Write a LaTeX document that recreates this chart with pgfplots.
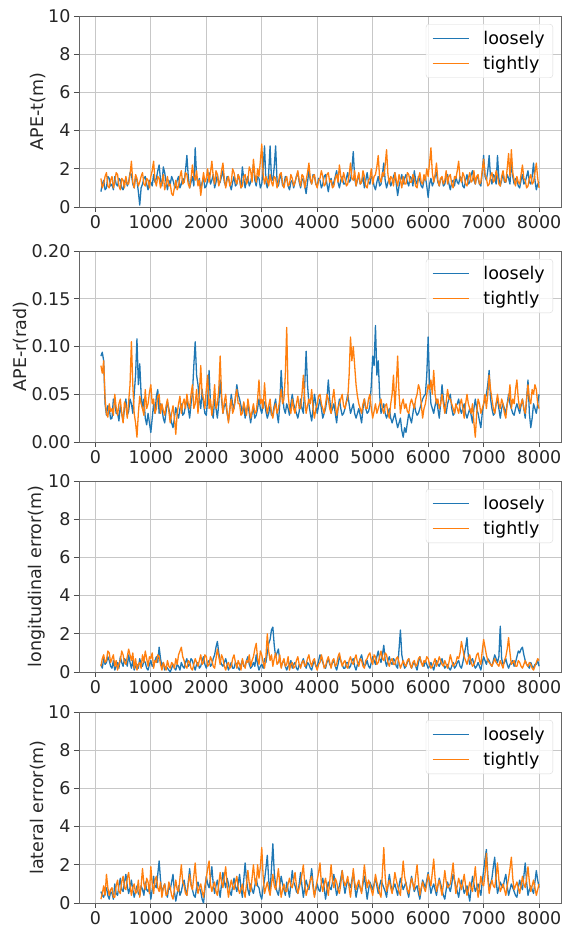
\documentclass[border=0pt]{standalone}
\usepackage{fontspec}
\setmainfont{DejaVu Sans}
\usepackage{pgfplots}
\usepackage{pgfplotstable}
\pgfplotsset{compat=1.18}
\definecolor{tabblue}{HTML}{1F77B4}
\definecolor{taborange}{HTML}{FF7F0E}
\newcommand\fs{\fontsize{17.5}{21}\selectfont}

\pgfplotstableread{
x a b
100 0.8 1.5
125 1.2 1.0
150 1.4 1.2
175 0.9 1.6
200 1.0 1.8
225 1.6 1.1
250 1.5 1.0
275 1.1 1.4
300 1.2 1.6
325 0.9 1.0
350 1.6 1.3
375 1.2 1.8
400 1.1 1.7
425 1.5 1.1
450 1.4 0.9
475 1.0 1.5
500 0.9 1.4
525 1.3 1.0
550 1.5 1.6
575 1.1 1.2
600 1.3 1.2
625 1.8 1.7
650 1.7 2.4
675 1.2 1.3
700 1.0 1.0
725 1.6 1.7
750 1.4 1.5
775 0.8 1.1
800 0.1 1.3
825 1.0 1.6
850 1.2 1.8
875 1.5 1.2
900 1.6 1.1
925 1.2 1.5
950 0.9 1.4
975 1.4 1.0
1000 1.3 1.6
1025 1.1 1.9
1050 1.7 2.4
1075 1.3 1.4
1100 1.5 1.1
1125 1.9 1.6
1150 2.2 1.5
1175 1.4 1.0
1200 1.1 1.3
1225 2.1 1.7
1250 1.8 0.9
1275 1.3 1.2
1300 0.9 1.6
1325 1.4 1.1
1350 1.2 1.2
1375 1.6 0.7
1400 1.4 0.6
1425 1.1 1.0
1450 1.0 1.4
1475 1.4 0.9
1500 1.6 1.1
1525 1.0 1.6
1550 1.2 1.9
1575 1.5 1.2
1600 1.3 1.3
1625 1.9 1.8
1650 2.7 1.7
1675 1.6 1.2
1700 1.0 1.0
1725 1.3 1.5
1750 1.6 2.2
1775 1.1 1.6
1800 3.1 1.4
1825 1.6 1.9
1850 1.2 1.1
1875 1.5 1.4
1900 0.9 0.6
1925 1.3 1.2
1950 1.5 1.8
1975 1.0 1.3
2000 1.1 1.5
2025 1.4 2.0
2050 1.8 1.3
2075 1.2 1.8
2100 1.4 2.4
2125 1.7 1.6
2150 1.0 1.2
2175 1.3 1.9
2200 1.7 1.7
2225 1.2 1.1
2250 1.3 1.4
2275 1.6 1.9
2300 1.9 2.3
2325 1.3 1.5
2350 1.1 1.0
2375 1.6 1.4
2400 1.5 1.6
2425 1.2 1.1
2450 0.9 1.3
2475 1.3 2.0
2500 1.6 1.8
2525 1.1 1.4
2550 1.2 1.2
2575 1.7 1.7
2600 1.4 1.5
2625 1.0 1.0
2650 2.1 1.1
2675 1.5 1.6
2700 1.0 1.7
2725 1.4 1.2
2750 1.6 1.4
2775 1.1 2.1
2800 1.3 1.9
2825 1.7 1.3
2850 2.2 2.5
2875 1.4 1.7
2900 1.1 1.3
2925 1.6 2.0
2950 1.5 1.6
2975 1.0 2.4
3000 1.2 3.3
3025 2.0 1.7
3050 3.2 1.2
3075 1.3 1.6
3100 1.0 1.4
3125 1.8 1.1
3150 3.2 1.7
3175 1.5 1.3
3200 1.4 1.1
3225 2.1 1.6
3250 3.2 1.5
3275 1.4 1.0
3300 1.1 1.3
3325 1.5 1.7
3350 1.7 1.8
3375 1.1 1.2
3400 1.2 1.0
3425 1.6 1.4
3450 1.5 1.6
3475 1.1 1.1
3500 0.9 1.2
3525 1.3 1.7
3550 1.4 1.5
3575 1.0 1.1
3600 1.3 1.3
3625 1.6 1.6
3650 1.8 1.9
3675 1.3 1.4
3700 1.0 1.1
3725 1.4 1.7
3750 1.5 1.6
3775 1.1 1.0
3800 0.7 1.4
3825 1.3 1.8
3850 1.9 2.3
3875 1.4 1.5
3900 1.2 1.2
3925 1.7 1.6
3950 1.6 1.7
3975 1.2 1.2
4000 1.1 1.0
4025 1.5 1.4
4050 1.4 1.5
4075 1.0 1.9
4100 1.2 1.6
4125 1.6 1.1
4150 1.7 1.2
4175 1.2 1.7
4200 0.8 1.8
4225 1.3 1.3
4250 1.5 1.4
4275 1.1 1.0
4300 1.3 1.1
4325 1.6 1.5
4350 1.9 1.7
4375 1.3 1.3
4400 1.0 2.2
4425 1.4 1.6
4450 1.6 1.3
4475 1.2 1.8
4500 1.2 1.5
4525 1.5 1.1
4550 1.8 1.2
4575 1.3 1.7
4600 1.4 2.3
4625 2.0 1.5
4650 2.9 1.4
4675 1.5 1.9
4700 1.1 1.1
4725 1.4 1.5
4750 1.7 1.8
4775 1.2 1.2
4800 1.3 1.3
4825 1.6 1.9
4850 1.0 1.6
4875 1.4 1.1
4900 1.8 1.0
4925 1.3 1.4
4950 1.2 1.5
4975 1.6 2.0
5000 1.5 1.2
5025 1.1 1.6
5050 0.9 1.7
5075 1.3 2.1
5100 1.6 2.7
5125 1.1 1.5
5150 1.2 1.3
5175 1.7 1.8
5200 2.3 1.6
5225 1.4 2.2
5250 1.0 3.0
5275 1.3 1.7
5300 1.5 1.2
5325 1.1 1.6
5350 1.3 1.5
5375 1.6 1.1
5400 1.8 1.8
5425 1.2 1.4
5450 0.6 1.1
5475 1.1 1.7
5500 1.4 1.4
5525 1.7 1.0
5550 1.2 1.6
5575 1.5 1.2
5600 1.7 1.2
5625 1.3 1.8
5650 1.1 1.7
5675 1.6 1.3
5700 1.5 1.3
5725 1.1 1.7
5750 1.9 1.5
5775 1.4 1.1
5800 1.2 1.0
5825 1.6 1.5
5850 1.4 1.8
5875 1.1 1.3
5900 1.0 1.2
5925 1.4 1.7
5950 1.6 1.4
5975 1.1 2.0
6000 0.5 1.6
6025 1.2 2.3
6050 1.5 3.1
6075 1.1 1.8
6100 1.3 1.3
6125 1.6 1.7
6150 1.8 2.3
6175 1.3 1.4
6200 1.1 1.1
6225 1.5 1.5
6250 1.5 1.6
6275 1.1 1.2
6300 1.2 1.4
6325 1.6 1.9
6350 1.7 1.2
6375 1.2 1.6
6400 0.9 1.7
6425 1.3 1.2
6450 1.4 1.0
6475 1.1 1.6
6500 1.6 1.5
6525 1.3 1.9
6550 1.2 2.4
6575 1.6 1.5
6600 1.5 1.3
6625 1.1 1.8
6650 1.0 1.6
6675 1.4 1.2
6700 1.7 1.1
6725 1.2 1.5
6750 1.3 1.8
6775 1.7 1.3
6800 1.9 1.4
6825 1.4 1.9
6850 1.2 1.2
6875 1.6 1.6
6900 1.5 1.7
6925 1.2 1.2
6950 1.1 1.3
6975 1.8 1.9
7000 2.7 2.5
7025 1.6 1.7
7050 1.4 1.5
7075 1.9 1.1
7100 2.7 1.2
7125 1.5 1.6
7150 1.2 1.8
7175 1.7 1.3
7200 1.6 1.4
7225 1.2 1.9
7250 2.7 1.6
7275 1.5 1.2
7300 1.1 1.1
7325 1.4 1.6
7350 1.8 1.9
7375 1.3 1.4
7400 1.3 1.3
7425 1.7 2.0
7450 1.5 2.8
7475 1.2 1.6
7500 2.5 3.0
7525 1.6 1.8
7550 1.2 1.4
7575 1.5 1.1
7600 1.4 1.6
7625 1.1 1.3
7650 1.0 1.2
7675 1.4 1.7
7700 1.7 2.2
7725 1.2 1.5
7750 1.3 1.4
7775 1.6 1.0
7800 1.9 1.1
7825 1.3 1.5
7850 1.2 1.7
7875 1.6 1.2
7900 2.3 1.3
7925 1.4 1.8
7950 0.9 2.3
7975 1.2 1.5
8000 1.3 1.0
}\tabT

\pgfplotstableread{
x a b
100 0.090 0.080
125 0.094 0.072
150 0.085 0.085
175 0.040 0.045
200 0.028 0.030
225 0.038 0.026
250 0.035 0.040
275 0.024 0.032
300 0.025 0.035
325 0.045 0.028
350 0.042 0.050
375 0.030 0.036
400 0.030 0.028
425 0.022 0.040
450 0.038 0.045
475 0.030 0.030
500 0.022 0.020
525 0.035 0.042
550 0.045 0.038
575 0.028 0.025
600 0.032 0.042
625 0.045 0.060
650 0.040 0.105
675 0.030 0.060
700 0.050 0.030
725 0.070 0.020
750 0.108 0.005
775 0.060 0.030
800 0.082 0.048
825 0.050 0.040
850 0.035 0.035
875 0.045 0.028
900 0.025 0.055
925 0.018 0.035
950 0.030 0.040
975 0.020 0.052
1000 0.010 0.060
1025 0.025 0.040
1050 0.040 0.045
1075 0.030 0.030
1100 0.048 0.035
1125 0.055 0.048
1150 0.030 0.050
1175 0.040 0.030
1200 0.035 0.040
1225 0.025 0.033
1250 0.020 0.028
1275 0.032 0.038
1300 0.042 0.045
1325 0.035 0.032
1350 0.028 0.020
1375 0.020 0.030
1400 0.015 0.038
1425 0.025 0.025
1450 0.036 0.008
1475 0.030 0.030
1500 0.025 0.040
1525 0.035 0.048
1550 0.040 0.030
1575 0.028 0.040
1600 0.030 0.045
1625 0.038 0.035
1650 0.045 0.050
1675 0.035 0.040
1700 0.025 0.035
1725 0.040 0.050
1750 0.050 0.060
1775 0.080 0.035
1800 0.105 0.040
1825 0.070 0.055
1850 0.060 0.030
1875 0.045 0.050
1900 0.035 0.080
1925 0.055 0.050
1950 0.040 0.045
1975 0.030 0.035
2000 0.028 0.055
2025 0.045 0.070
2050 0.075 0.035
2075 0.040 0.045
2100 0.032 0.028
2125 0.025 0.040
2150 0.045 0.060
2175 0.035 0.035
2200 0.025 0.040
2225 0.040 0.055
2250 0.065 0.090
2275 0.045 0.050
2300 0.030 0.030
2325 0.038 0.042
2350 0.040 0.050
2375 0.030 0.032
2400 0.022 0.020
2425 0.035 0.035
2450 0.050 0.045
2475 0.040 0.030
2500 0.035 0.035
2525 0.045 0.048
2550 0.060 0.055
2575 0.050 0.040
2600 0.045 0.040
2625 0.038 0.028
2650 0.030 0.030
2675 0.040 0.042
2700 0.025 0.035
2725 0.032 0.028
2750 0.040 0.045
2775 0.030 0.035
2800 0.020 0.025
2825 0.030 0.032
2850 0.035 0.040
2875 0.025 0.030
2900 0.028 0.032
2925 0.035 0.045
2950 0.045 0.065
2975 0.035 0.040
3000 0.030 0.045
3025 0.040 0.035
3050 0.042 0.062
3075 0.032 0.040
3100 0.025 0.030
3125 0.030 0.038
3150 0.038 0.045
3175 0.028 0.030
3200 0.030 0.025
3225 0.038 0.035
3250 0.045 0.040
3275 0.030 0.030
3300 0.020 0.035
3325 0.040 0.045
3350 0.075 0.055
3375 0.050 0.040
3400 0.035 0.045
3425 0.030 0.070
3450 0.040 0.120
3475 0.035 0.050
3500 0.028 0.035
3525 0.040 0.030
3550 0.050 0.045
3575 0.040 0.035
3600 0.035 0.030
3625 0.030 0.040
3650 0.025 0.048
3675 0.032 0.035
3700 0.045 0.035
3725 0.035 0.050
3750 0.030 0.070
3775 0.060 0.045
3800 0.095 0.030
3825 0.060 0.038
3850 0.040 0.045
3875 0.030 0.040
3900 0.022 0.055
3925 0.035 0.035
3950 0.050 0.025
3975 0.040 0.035
4000 0.030 0.040
4025 0.038 0.048
4050 0.045 0.050
4075 0.035 0.040
4100 0.025 0.035
4125 0.030 0.030
4150 0.035 0.040
4175 0.045 0.050
4200 0.065 0.045
4225 0.045 0.035
4250 0.030 0.030
4275 0.035 0.045
4300 0.040 0.055
4325 0.030 0.040
4350 0.020 0.028
4375 0.035 0.035
4400 0.045 0.040
4425 0.035 0.045
4450 0.028 0.050
4475 0.030 0.038
4500 0.035 0.035
4525 0.042 0.042
4550 0.050 0.045
4575 0.040 0.070
4600 0.030 0.110
4625 0.035 0.085
4650 0.040 0.100
4675 0.030 0.080
4700 0.025 0.060
4725 0.030 0.048
4750 0.035 0.040
4775 0.028 0.035
4800 0.020 0.030
4825 0.035 0.040
4850 0.045 0.045
4875 0.035 0.035
4900 0.030 0.035
4925 0.032 0.045
4950 0.038 0.050
4975 0.060 0.035
5000 0.090 0.025
5025 0.080 0.032
5050 0.122 0.040
5075 0.070 0.030
5100 0.085 0.035
5125 0.050 0.040
5150 0.030 0.045
5175 0.035 0.035
5200 0.040 0.030
5225 0.030 0.038
5250 0.025 0.040
5275 0.030 0.030
5300 0.035 0.025
5325 0.025 0.040
5350 0.020 0.050
5375 0.025 0.070
5400 0.030 0.035
5425 0.022 0.060
5450 0.015 0.090
5475 0.020 0.050
5500 0.025 0.030
5525 0.012 0.040
5550 0.005 0.045
5575 0.015 0.035
5600 0.010 0.040
5625 0.020 0.032
5650 0.030 0.030
5675 0.025 0.040
5700 0.020 0.045
5725 0.030 0.040
5750 0.040 0.035
5775 0.032 0.045
5800 0.028 0.050
5825 0.030 0.060
5850 0.035 0.055
5875 0.040 0.040
5900 0.045 0.025
5925 0.048 0.035
5950 0.050 0.040
5975 0.070 0.050
6000 0.110 0.060
6025 0.060 0.055
6050 0.040 0.065
6075 0.035 0.050
6100 0.030 0.075
6125 0.038 0.050
6150 0.045 0.040
6175 0.035 0.045
6200 0.025 0.035
6225 0.040 0.040
6250 0.060 0.050
6275 0.045 0.040
6300 0.035 0.030
6325 0.030 0.042
6350 0.040 0.055
6375 0.045 0.045
6400 0.050 0.045
6425 0.035 0.040
6450 0.028 0.035
6475 0.030 0.030
6500 0.038 0.040
6525 0.040 0.035
6550 0.045 0.030
6575 0.035 0.040
6600 0.030 0.045
6625 0.035 0.035
6650 0.040 0.025
6675 0.030 0.040
6700 0.025 0.050
6725 0.030 0.040
6750 0.035 0.035
6775 0.028 0.030
6800 0.020 0.040
6825 0.035 0.020
6850 0.045 0.005
6875 0.035 0.030
6900 0.030 0.045
6925 0.022 0.040
6950 0.015 0.030
6975 0.030 0.035
7000 0.040 0.040
7025 0.045 0.050
7050 0.050 0.035
7075 0.060 0.050
7100 0.075 0.070
7125 0.045 0.055
7150 0.035 0.045
7175 0.028 0.035
7200 0.030 0.030
7225 0.040 0.040
7250 0.045 0.050
7275 0.035 0.040
7300 0.025 0.035
7325 0.035 0.045
7350 0.040 0.040
7375 0.035 0.030
7400 0.030 0.025
7425 0.040 0.040
7450 0.050 0.045
7475 0.040 0.060
7500 0.035 0.035
7525 0.030 0.045
7550 0.028 0.040
7575 0.035 0.055
7600 0.040 0.065
7625 0.035 0.045
7650 0.030 0.035
7675 0.038 0.040
7700 0.045 0.045
7725 0.035 0.035
7750 0.025 0.030
7775 0.045 0.045
7800 0.065 0.060
7825 0.030 0.045
7850 0.015 0.040
7875 0.025 0.055
7900 0.040 0.050
7925 0.035 0.060
7950 0.030 0.055
7975 0.040 0.040
8000 0.050 0.035
}\tabR

\pgfplotstableread{
x a b
100 0.4 0.3
125 0.2 0.7
150 0.7 0.9
175 0.4 0.5
200 0.5 0.6
225 0.8 1.1
250 0.6 1.0
275 0.3 0.5
300 0.2 0.7
325 0.6 0.9
350 0.1 0.3
375 0.3 0.6
400 0.5 0.1
425 0.2 0.4
450 0.8 0.6
475 0.5 1.1
500 0.3 0.9
525 0.7 0.5
550 0.6 0.4
575 0.3 0.8
600 0.9 1.2
625 0.5 0.9
650 0.2 0.6
675 0.6 1.0
700 0.1 0.2
725 0.3 0.7
750 0.4 0.1
775 0.2 0.4
800 0.7 0.5
825 0.4 0.2
850 0.3 0.9
875 0.6 0.5
900 0.5 1.1
925 0.2 0.7
950 0.1 0.3
975 0.4 0.8
1000 0.6 0.7
1025 0.3 1.0
1050 0.4 0.2
1075 0.6 0.6
1100 0.8 0.5
1125 0.5 0.9
1150 1.3 0.8
1175 0.7 0.4
1200 0.3 0.1
1225 0.5 0.5
1250 0.1 0.3
1275 0.3 0.1
1300 0.2 0.6
1325 0.1 0.3
1350 0.0 0.2
1375 0.2 0.5
1400 0.4 0.4
1425 0.2 0.2
1450 0.1 0.7
1475 0.4 0.4
1500 0.3 0.9
1525 0.1 1.1
1550 0.5 1.3
1575 0.3 0.8
1600 0.2 0.6
1625 0.5 0.3
1650 0.7 0.2
1675 0.3 0.6
1700 0.4 0.5
1725 0.7 0.2
1750 0.6 0.1
1775 0.3 0.4
1800 0.1 0.7
1825 0.4 0.5
1850 0.5 0.3
1875 0.2 0.6
1900 0.3 0.9
1925 0.6 0.4
1950 0.8 0.5
1975 0.4 0.9
2000 0.2 0.8
2025 0.5 0.3
2050 0.6 0.4
2075 0.3 0.8
2100 0.4 0.6
2125 0.7 0.3
2150 0.9 0.2
2175 1.3 0.7
2200 1.6 1.2
2225 1.0 0.8
2250 0.6 0.4
2275 0.4 0.9
2300 0.3 0.7
2325 0.5 0.3
2350 0.7 0.1
2375 0.4 0.4
2400 0.1 0.5
2425 0.3 0.2
2450 0.5 0.3
2475 0.2 0.7
2500 0.2 0.9
2525 0.5 0.5
2550 0.4 0.2
2575 0.2 0.6
2600 0.1 0.4
2625 0.4 0.1
2650 0.6 0.7
2675 0.3 0.4
2700 0.3 0.2
2725 0.6 0.6
2750 0.8 0.5
2775 0.4 0.9
2800 0.2 0.3
2825 0.3 0.6
2850 0.5 0.8
2875 0.3 1.2
2900 0.9 1.5
2925 0.4 0.7
2950 0.1 0.4
2975 0.3 1.1
3000 0.4 0.9
3025 0.2 0.5
3050 0.7 0.2
3075 0.5 0.8
3100 1.0 2.0
3125 1.5 1.1
3150 1.7 0.6
3175 2.2 0.9
3200 2.35 0.3
3225 1.4 0.7
3250 0.8 1.0
3275 1.0 0.4
3300 1.2 0.5
3325 0.6 0.9
3350 0.3 0.2
3375 0.5 0.5
3400 0.6 0.7
3425 0.3 0.3
3450 0.1 0.4
3475 0.3 0.8
3500 0.4 0.1
3525 0.6 0.4
3550 0.2 0.5
3575 0.4 0.2
3600 0.5 0.3
3625 0.2 0.6
3650 0.1 0.8
3675 0.4 0.4
3700 0.3 0.2
3725 0.5 0.5
3750 0.7 0.6
3775 0.4 0.3
3800 0.2 0.4
3825 0.5 0.7
3850 0.4 0.9
3875 0.2 0.5
3900 0.1 0.3
3925 0.4 0.6
3950 0.6 0.7
3975 0.3 0.3
4000 0.3 0.1
4025 0.6 0.4
4050 0.9 0.5
4075 0.7 0.9
4100 0.5 0.6
4125 0.3 0.2
4150 0.2 0.3
4175 0.5 0.6
4200 0.7 0.8
4225 0.4 0.5
4250 0.3 0.2
4275 0.5 0.6
4300 0.6 0.7
4325 0.3 0.3
4350 0.1 0.4
4375 0.4 0.8
4400 0.8 1.0
4425 0.6 0.6
4450 0.4 0.3
4475 0.2 0.5
4500 0.2 0.6
4525 0.5 0.3
4550 0.5 0.2
4575 0.2 0.6
4600 0.3 0.8
4625 0.6 0.5
4650 0.7 0.4
4675 0.3 0.7
4700 0.1 0.9
4725 0.4 0.5
4750 0.5 0.3
4775 0.7 0.7
4800 0.9 0.6
4825 0.5 0.3
4850 0.3 0.2
4875 0.4 0.6
4900 0.6 0.7
4925 0.3 0.9
4950 0.2 1.0
4975 0.5 0.6
5000 0.8 0.4
5025 0.6 0.9
5050 0.4 0.8
5075 0.8 0.4
5100 1.1 0.5
5125 0.7 0.8
5150 0.5 1.1
5175 0.9 0.7
5200 1.4 0.6
5225 0.6 1.0
5250 0.3 0.9
5275 0.6 0.5
5300 0.8 0.3
5325 0.5 0.6
5350 0.4 0.7
5375 0.7 0.4
5400 0.6 0.4
5425 0.3 0.7
5450 0.2 0.8
5475 1.2 0.5
5500 2.2 0.2
5525 0.9 0.4
5550 0.5 0.6
5575 0.2 0.4
5600 0.3 0.3
5625 0.5 0.6
5650 0.7 0.7
5675 0.4 0.4
5700 0.2 0.2
5725 0.4 0.5
5750 0.5 0.6
5775 0.3 0.3
5800 0.1 0.4
5825 0.5 0.7
5850 0.8 0.8
5875 0.5 0.5
5900 0.4 0.3
5925 0.3 0.6
5950 0.6 0.5
5975 0.4 0.8
6000 0.2 0.7
6025 0.3 0.4
6050 0.5 0.2
6075 0.3 0.3
6100 0.1 0.5
6125 0.4 0.7
6150 0.6 0.3
6175 0.4 0.5
6200 0.3 0.8
6225 0.5 0.6
6250 0.7 0.4
6275 0.4 0.3
6300 0.2 0.6
6325 0.3 0.4
6350 0.4 0.2
6375 0.2 0.5
6400 0.1 0.9
6425 0.3 0.6
6450 0.5 0.3
6475 0.2 0.4
6500 0.3 0.5
6525 0.5 0.8
6550 0.6 0.7
6575 0.3 1.0
6600 0.2 1.6
6625 0.5 1.2
6650 0.9 0.8
6675 1.3 0.6
6700 1.8 0.4
6725 0.8 0.7
6750 0.4 0.9
6775 0.6 0.5
6800 0.7 0.3
6825 0.4 0.4
6850 0.2 0.6
6875 0.3 0.9
6900 0.5 1.0
6925 0.3 0.6
6950 0.1 0.4
6975 0.5 1.1
7000 0.8 1.7
7025 0.6 1.3
7050 0.4 0.9
7075 0.7 0.6
7100 0.6 0.5
7125 0.4 0.4
7150 0.3 0.3
7175 0.6 0.5
7200 0.9 0.7
7225 0.7 0.5
7250 0.5 0.4
7275 0.8 0.3
7300 2.4 0.6
7325 0.7 0.4
7350 0.4 0.2
7375 0.5 0.6
7400 0.7 0.8
7425 0.4 1.2
7450 0.2 1.8
7475 0.4 1.0
7500 0.5 0.4
7525 0.6 0.5
7550 0.3 0.6
7575 0.5 0.3
7600 0.8 0.3
7625 1.1 0.6
7650 1.0 0.5
7675 1.2 0.3
7700 1.3 0.2
7725 0.9 0.4
7750 0.6 0.6
7775 0.4 0.4
7800 0.3 0.3
7825 0.2 0.5
7850 0.5 0.4
7875 0.3 0.2
7900 0.2 0.1
7925 0.4 0.3
7950 0.4 0.5
7975 0.6 0.7
8000 0.3 0.6
}\tabLo

\pgfplotstableread{
x a b
100 0.6 0.2
125 0.4 0.5
150 0.3 0.9
175 0.6 0.4
200 0.8 1.5
225 0.4 0.8
250 0.2 0.4
275 0.6 0.7
300 0.5 0.8
325 0.2 0.3
350 1.0 0.3
375 0.5 0.9
400 0.4 1.2
425 0.9 0.6
450 1.3 0.5
475 0.7 1.1
500 0.6 1.4
525 1.1 0.8
550 1.5 0.7
575 0.9 1.3
600 0.5 1.6
625 0.8 0.9
650 1.2 0.4
675 0.7 0.8
700 0.3 1.0
725 0.6 0.5
750 0.9 0.6
775 0.5 1.2
800 0.4 0.3
825 0.9 0.9
850 0.7 1.8
875 0.4 1.0
900 1.1 0.7
925 0.7 1.3
950 0.6 1.1
975 0.9 0.5
1000 0.2 1.9
1025 0.7 1.0
1050 1.4 0.5
1075 0.9 1.2
1100 0.8 1.4
1125 1.5 0.8
1150 2.2 0.6
1175 1.2 1.1
1200 0.5 0.3
1225 0.8 0.8
1250 1.0 1.0
1275 0.5 0.4
1300 0.3 0.5
1325 0.9 1.1
1350 0.7 0.8
1375 1.1 0.4
1400 1.5 0.2
1425 0.6 0.7
1450 0.1 1.2
1475 0.5 0.7
1500 0.9 0.6
1525 0.4 1.3
1550 0.6 2.0
1575 1.0 1.1
1600 1.2 0.9
1625 0.7 0.5
1650 0.4 0.4
1675 1.1 1.0
1700 1.8 1.5
1725 1.0 0.9
1750 0.7 0.7
1775 0.4 1.4
1800 0.3 2.1
1825 0.8 1.0
1850 1.1 0.5
1875 0.8 0.8
1900 0.6 1.0
1925 0.2 0.6
1950 0.0 0.3
1975 0.7 0.9
2000 1.4 1.3
2025 1.0 1.8
2050 0.8 2.2
2075 1.3 1.0
2100 1.9 0.6
2125 1.0 0.9
2150 0.5 1.1
2175 0.9 0.6
2200 1.2 0.4
2225 0.7 1.0
2250 0.3 1.6
2275 1.0 1.1
2300 1.6 0.8
2325 1.1 1.4
2350 0.8 1.9
2375 1.3 0.9
2400 1.0 0.3
2425 0.6 0.8
2450 0.4 1.2
2475 0.9 0.9
2500 1.3 0.7
2525 0.9 1.1
2550 0.6 1.4
2575 1.0 0.8
2600 1.5 0.5
2625 0.8 0.7
2650 0.3 1.0
2675 1.2 0.6
2700 2.1 0.3
2725 1.2 1.0
2750 0.7 1.7
2775 0.4 1.0
2800 1.0 0.6
2825 0.7 1.3
2850 0.5 2.0
2875 0.9 1.2
2900 1.3 0.9
2925 0.9 2.0
2950 0.8 1.3
2975 0.4 1.9
3000 0.2 2.9
3025 0.8 1.4
3050 1.2 0.5
3075 1.8 0.8
3100 2.5 1.1
3125 1.2 0.7
3150 0.6 0.4
3175 1.8 1.0
3200 3.1 1.5
3225 1.6 0.9
3250 0.9 0.7
3275 0.6 1.2
3300 0.4 1.8
3325 0.9 1.0
3350 1.4 0.3
3375 1.0 0.7
3400 0.7 1.0
3425 0.4 0.6
3450 1.1 0.6
3475 0.7 1.0
3500 0.3 1.3
3525 1.0 0.9
3550 1.7 0.8
3575 1.1 1.2
3600 0.9 1.6
3625 0.6 0.9
3650 0.5 0.5
3675 1.0 0.8
3700 1.6 1.1
3725 0.9 1.5
3750 0.3 2.0
3775 0.8 1.0
3800 1.2 0.4
3825 0.9 0.7
3850 0.7 0.9
3875 1.2 1.2
3900 1.8 1.4
3925 1.0 0.8
3950 0.4 0.3
3975 0.7 0.8
4000 1.0 1.2
4025 0.7 1.6
4050 0.6 2.1
4075 1.0 1.0
4100 1.3 0.6
4125 0.8 1.0
4150 0.2 1.3
4175 0.7 0.8
4200 1.1 0.4
4225 0.8 1.1
4250 0.7 2.0
4275 1.1 1.2
4300 1.5 0.8
4325 0.9 1.3
4350 0.4 1.1
4375 0.7 0.7
4400 0.9 0.5
4425 1.3 1.0
4450 1.7 1.7
4475 1.0 1.2
4500 0.5 0.9
4525 0.9 1.1
4550 1.2 1.4
4575 1.0 0.8
4600 0.8 0.3
4625 1.2 1.0
4650 1.6 1.8
4675 0.9 1.1
4700 0.3 0.7
4725 0.7 1.0
4750 1.0 1.2
4775 0.8 0.8
4800 0.6 0.5
4825 1.0 1.2
4850 1.4 2.0
4875 0.8 1.3
4900 0.2 0.8
4925 0.7 1.2
4950 1.1 1.0
4975 0.9 0.7
5000 0.7 0.4
5025 1.0 0.9
5050 1.3 1.5
5075 0.9 1.1
5100 0.5 0.8
5125 0.9 0.5
5150 1.2 0.3
5175 1.0 1.6
5200 0.8 2.9
5225 0.6 1.4
5250 0.3 0.6
5275 0.9 0.9
5300 1.5 1.2
5325 1.0 0.8
5350 0.6 0.5
5375 0.8 1.0
5400 1.0 1.6
5425 0.7 1.2
5450 0.4 0.9
5475 0.9 0.6
5500 1.3 0.4
5525 1.0 1.3
5550 0.7 2.2
5575 0.9 1.4
5600 1.1 1.0
5625 0.6 0.7
5650 0.3 0.5
5675 0.9 0.9
5700 1.4 1.3
5725 1.0 1.0
5750 0.6 0.7
5775 0.8 1.4
5800 0.9 2.0
5825 0.5 1.1
5850 0.2 0.4
5875 0.7 0.8
5900 1.2 1.1
5925 1.0 0.8
5950 0.8 0.6
5975 1.2 1.0
6000 1.6 1.5
6025 1.0 1.2
6050 0.5 0.9
6075 0.8 1.6
6100 1.0 2.3
6125 0.7 1.3
6150 0.4 0.6
6175 0.9 0.9
6200 1.3 1.2
6225 1.0 0.8
6250 0.7 0.4
6275 0.4 1.0
6300 0.2 1.7
6325 0.7 1.1
6350 1.1 0.8
6375 0.8 0.9
6400 0.6 1.0
6425 1.0 1.5
6450 1.5 2.1
6475 1.2 1.2
6500 0.9 0.5
6525 0.6 0.9
6550 0.3 1.3
6575 0.8 1.0
6600 1.2 0.7
6625 0.9 1.1
6650 0.5 1.5
6675 0.7 0.9
6700 0.9 0.4
6725 0.5 0.7
6750 0.1 1.1
6775 0.8 0.8
6800 1.4 0.6
6825 1.0 1.2
6850 0.6 1.9
6875 0.8 1.0
6900 1.0 0.3
6925 0.7 0.8
6950 0.4 1.4
6975 1.1 1.0
7000 1.7 0.9
7025 2.3 1.5
7050 2.8 2.6
7075 1.5 1.3
7100 0.7 0.5
7125 1.0 0.9
7150 1.3 1.2
7175 1.9 0.9
7200 2.4 0.8
7225 1.2 1.4
7250 0.5 2.1
7275 0.8 1.2
7300 1.1 0.6
7325 0.9 0.8
7350 0.8 1.0
7375 1.2 0.7
7400 1.5 0.4
7425 0.9 0.9
7450 0.4 1.3
7475 0.7 1.8
7500 1.0 2.4
7525 0.8 1.3
7550 0.6 0.7
7575 0.4 0.9
7600 0.3 1.1
7625 0.8 0.8
7650 1.2 0.5
7675 0.9 0.9
7700 0.7 1.4
7725 1.4 1.0
7750 2.1 0.8
7775 1.1 1.3
7800 0.4 1.9
7825 0.7 1.1
7850 0.9 0.6
7875 0.7 0.9
7900 0.5 1.2
7925 1.1 0.8
7950 1.7 0.4
7975 1.2 0.7
8000 0.8 1.0
}\tabLa

\pgfplotsset{
  panel/.style={
    scale only axis, width=482pt, height=191pt,
    xmin=-295, xmax=8395,
    xtick={0,1000,2000,3000,4000,5000,6000,7000,8000},
    grid=major,
    major grid style={draw=black!22, line width=0.7pt},
    axis line style={draw=black!60, line width=0.9pt},
    major tick style={draw=black!70, line width=0.8pt},
    tick align=outside, tick pos=left,
    major tick length=5pt,
    scaled ticks=false,
    /pgf/number format/assume math mode=true,
    /pgf/number format/1000 sep={},
    tick label style={font=\fs, text=black!85},
    label style={font=\fs, text=black!85},
    ylabel style={yshift=-4pt},
    legend style={at={(1,1)}, anchor=north east, xshift=-8pt, yshift=-8pt,
      draw=black!15, fill=white, fill opacity=0.8, draw opacity=1, text opacity=1,
      rounded corners=3pt, font=\fs, inner xsep=6pt, inner ysep=5pt, row sep=6pt,
      /tikz/every odd column/.append style={column sep=12pt}},
    legend cell align=left,
    legend image code/.code={\draw[#1, line width=1.4pt] (0pt,0pt) -- (36pt,0pt);},
    every axis plot/.append style={line width=1.3pt, line join=round},
  },
}

\begin{document}
\begin{tikzpicture}
\useasboundingbox (0,0) rectangle (568pt,-927pt);

\begin{axis}[panel, at={(79pt,-207pt)}, anchor=south west,
  ymin=0, ymax=10, ytick={0,2,4,6,8,10}, ylabel={APE-t(m)}]
\addplot[tabblue] table[x=x, y=a] {\tabT};
\addlegendentry{loosely}
\addplot[taborange] table[x=x, y=b] {\tabT};
\addlegendentry{tightly}
\end{axis}

\begin{axis}[panel, at={(79pt,-442pt)}, anchor=south west,
  ymin=0, ymax=0.2, ytick={0,0.05,0.10,0.15,0.20}, ylabel={APE-r(rad)},
  yticklabel style={/pgf/number format/.cd, fixed, fixed zerofill, precision=2}]
\addplot[tabblue] table[x=x, y=a] {\tabR};
\addlegendentry{loosely}
\addplot[taborange] table[x=x, y=b] {\tabR};
\addlegendentry{tightly}
\end{axis}

\begin{axis}[panel, at={(79pt,-672pt)}, anchor=south west,
  ymin=0, ymax=10, ytick={0,2,4,6,8,10}, ylabel={longitudinal error(m)}]
\addplot[tabblue] table[x=x, y=a] {\tabLo};
\addlegendentry{loosely}
\addplot[taborange] table[x=x, y=b] {\tabLo};
\addlegendentry{tightly}
\end{axis}

\begin{axis}[panel, at={(79pt,-903pt)}, anchor=south west,
  ymin=0, ymax=10, ytick={0,2,4,6,8,10}, ylabel={lateral error(m)}]
\addplot[tabblue] table[x=x, y=a] {\tabLa};
\addlegendentry{loosely}
\addplot[taborange] table[x=x, y=b] {\tabLa};
\addlegendentry{tightly}
\end{axis}
\end{tikzpicture}
\end{document}
